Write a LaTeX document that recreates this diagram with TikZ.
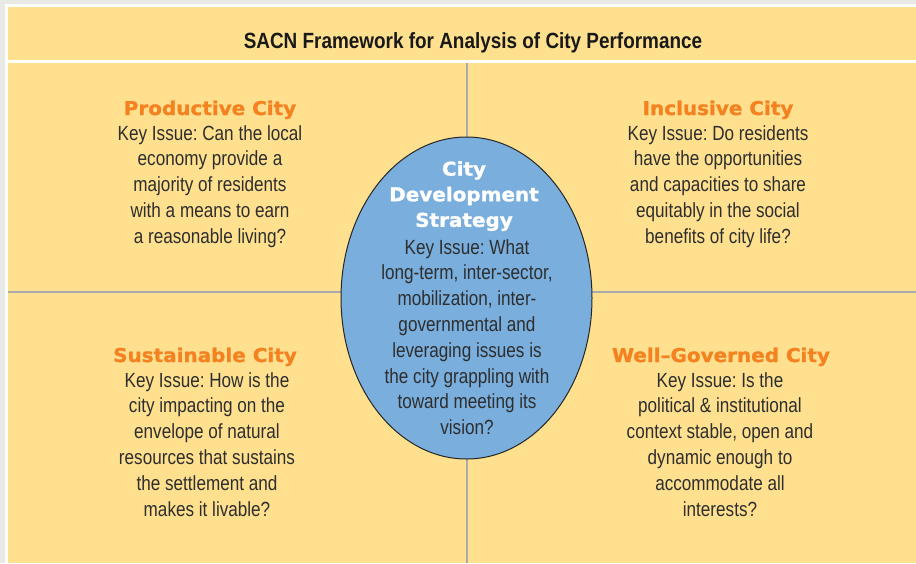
\documentclass[tikz,border=0pt]{standalone}
\usepackage{fontspec}
\usepackage{xcolor}
\usepackage{tikz}
\usetikzlibrary{shapes.geometric}

\newfontfamily\bodyfont[FakeStretch=0.835]{Liberation Sans}
\newfontfamily\titlefont[FakeStretch=0.86]{Liberation Sans}
\newfontfamily\headfont[FakeStretch=1.05, BoldFeatures={FakeBold=1.2}]{DejaVu Sans}

\definecolor{pagegrey}{HTML}{EAEAE4}
\definecolor{panelyellow}{HTML}{FEE08F}
\definecolor{strategyblue}{HTML}{79AEDD}
\definecolor{headorange}{HTML}{F58220}
\definecolor{textgrey}{HTML}{2E2E2E}
\definecolor{ruleline}{HTML}{A9A9AE}

\tikzset{
  issue/.style={align=center, inner sep=0pt, text=textgrey,
    font=\bodyfont\frenchspacing\fontsize{20.5}{25.8}\selectfont},
  cityhead/.style={align=center, inner sep=0pt, text=headorange,
    font=\headfont\bfseries\fontsize{19}{25.6}\selectfont},
  divider/.style={draw=ruleline, line width=2pt}
}

\begin{document}
\begin{tikzpicture}[x=1pt, y=-1pt]
  \useasboundingbox (0,0) rectangle (916,563);
  \fill[pagegrey] (0,0) rectangle (916,563);
  \fill[white] (5,4) rectangle (916,563);
  \fill[panelyellow] (8,7) rectangle (916,60);
  \fill[panelyellow] (8,63) rectangle (916,563);

  % quarter lines
  \draw[divider] (467,63) -- (467,563);
  \draw[divider] (8,292) -- (916,292);

  \node[font=\titlefont\bfseries\fontsize{22}{24}\selectfont, text=black!90] (title) at (473,43) {SACN Framework for Analysis of City Performance};

  \node[ellipse, draw=black!85, line width=1pt, fill=strategyblue, minimum width=251pt, minimum height=322pt] (cds) at (466.5,298) {};

  % quarters
  \node[cityhead, anchor=base] (prodhead) at (210,115) {Productive City};
  \node[issue, anchor=north] (prod) at (210,125) {Key Issue: Can the local\\economy provide a\\majority of residents\\with a means to earn\\a reasonable living?};

  \node[cityhead, anchor=base] (inclhead) at (718,115) {Inclusive City};
  \node[issue, anchor=north] (incl) at (718,125) {Key Issue: Do residents\\have the opportunities\\and capacities to share\\equitably in the social\\benefits of city life?};

  \node[cityhead, anchor=base] (susthead) at (205,362) {Sustainable City};
  \node[issue, anchor=north] (sust) at (207,372) {Key Issue: How is the\\city impacting on the\\envelope of natural\\resources that sustains\\the settlement and\\makes it livable?};

  \node[cityhead, anchor=base] (govhead) at (721,362) {Well–Governed City};
  \node[issue, anchor=north] (gov) at (720,372) {Key Issue: Is the\\political \& institutional\\context stable, open and\\dynamic enough to\\accommodate all\\interests?};

  % centre
  \node[cityhead, text=white, anchor=north] (cdshead) at (464,161) {City\\Development\\Strategy};
  \node[issue, anchor=north] (cdstext) at (467,239) {Key Issue: What\\long-term, inter-sector,\\mobilization, inter-\\governmental and\\leveraging issues is\\the city grappling with\\toward meeting its\\vision?};
\end{tikzpicture}
\end{document}
